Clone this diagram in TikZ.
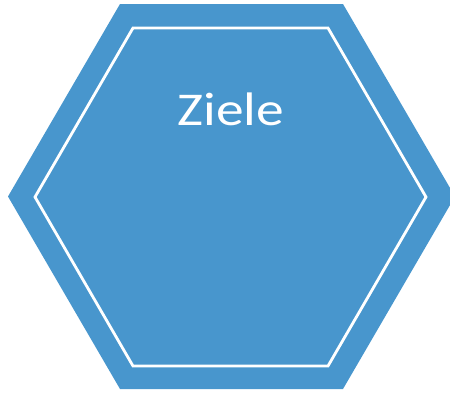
\documentclass[tikz,border=0pt]{standalone}
\usepackage{fontspec}
\setmainfont{Carlito}
\definecolor{hexblue}{HTML}{4896CD}
\begin{document}
\begin{tikzpicture}[x=1pt,y=-1pt,
    hexfill/.style={fill=hexblue,draw=none},
    hexline/.style={draw=white,line width=2.8pt,line join=miter},
    title/.style={text=white,font=\fontsize{47}{52}\selectfont,inner sep=0pt,xscale=1.18}]
    \useasboundingbox (0,0) rectangle (450,392);
    % Outer hexagon
        \fill[hexfill] (120,4) -- (343,4) -- (455,196.5) -- (343,389) -- (120,389) -- (8,196.5) -- cycle;
    % Inner outline
        \draw[hexline] (133,28) -- (328,28) -- (426,197) -- (328,366) -- (133,366) -- (35,197) -- cycle;
    % Label
        \node[title,anchor=base] (ziele) at (231,125) {Ziele};
\end{tikzpicture}
\end{document}
